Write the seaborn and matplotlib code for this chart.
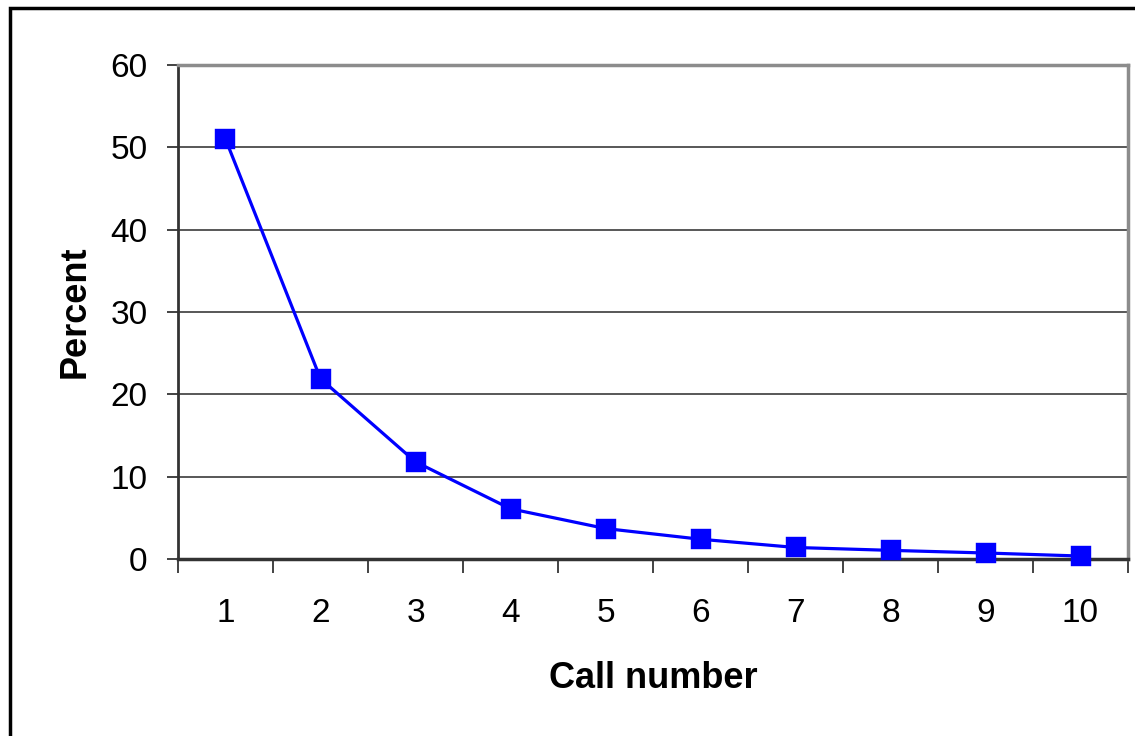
import matplotlib
matplotlib.use("Agg")
import matplotlib.pyplot as plt
import seaborn as sns
import pandas as pd
from matplotlib.patches import Rectangle

# Data
call_numbers = ["1", "2", "3", "4", "5", "6", "7", "8", "9", "10"]
percent = [51.0, 21.9, 11.8, 6.1, 3.7, 2.4, 1.4, 1.05, 0.73, 0.36]
y_ticks = [0, 10, 20, 30, 40, 50, 60]

df = pd.DataFrame({"Call number": call_numbers, "Percent": percent})

sns.set_theme(style="white")
plt.rcParams["font.family"] = ["Liberation Sans", "DejaVu Sans"]
plt.rcParams["text.color"] = "black"
plt.rcParams["axes.labelcolor"] = "black"
plt.rcParams["xtick.color"] = "black"
plt.rcParams["ytick.color"] = "black"

fig = plt.figure(figsize=(11.35, 7.36), dpi=100)
ax = fig.add_axes([178 / 1135, 1 - 559 / 736, (1128 - 178) / 1135, (559 - 65) / 736])

# horizontal grid lines
for yv in y_ticks[1:-1]:
    ax.axhline(yv, color="#2a2a2a", lw=1.1, zorder=1)

sns.pointplot(data=df, x="Call number", y="Percent", order=call_numbers,
              color="#0000ff", markers="s", linestyles="-", ax=ax,
              markersize=13.5, linewidth=2.3, zorder=3)
for ln in ax.lines:
    ln.set_markeredgecolor("#0000ff")
    ln.set_clip_on(False)

ax.set_xlim(-0.5, len(call_numbers) - 0.5)
ax.set_ylim(0, 60)
ax.set_yticks(y_ticks)
ax.set_yticklabels([str(v) for v in y_ticks])

# x: labels at centers, ticks at boundaries
ax.set_xticks(range(len(call_numbers)))
ax.set_xticklabels(call_numbers)
ax.set_xticks([i - 0.5 for i in range(len(call_numbers) + 1)], minor=True)
ax.tick_params(axis="x", which="major", length=0, pad=28, labelsize=24, labelcolor="black")
ax.tick_params(axis="x", which="minor", length=10, width=1.2, color="#222222", direction="out", bottom=True)
ax.tick_params(axis="y", which="major", length=8, width=1.2, color="#222222", pad=14,
               labelsize=24, labelcolor="black", direction="out", left=True)

ax.set_xlabel("Call number", fontsize=26, fontweight="bold", labelpad=23, color="black")
ax.set_ylabel("Percent", fontsize=26, fontweight="bold", labelpad=13, color="black")

ax.set_facecolor("white")
ax.spines["left"].set_color("#333333")
ax.spines["left"].set_linewidth(2)
ax.spines["bottom"].set_color("#333333")
ax.spines["bottom"].set_linewidth(2.5)
ax.spines["top"].set_color("#8c8c8c")
ax.spines["top"].set_linewidth(2.5)
ax.spines["right"].set_color("#8c8c8c")
ax.spines["right"].set_linewidth(2.5)
for s in ax.spines.values():
    s.set_zorder(2)

# outer chart-area border (cut off at right and bottom)
fig.patches.append(Rectangle((10 / 1135, -0.05), 1.2, 1 - 8 / 736 + 0.05,
                             transform=fig.transFigure, fill=False,
                             edgecolor="black", linewidth=2.5, clip_on=False))

fig.savefig("out.png", dpi=100, facecolor="white")
